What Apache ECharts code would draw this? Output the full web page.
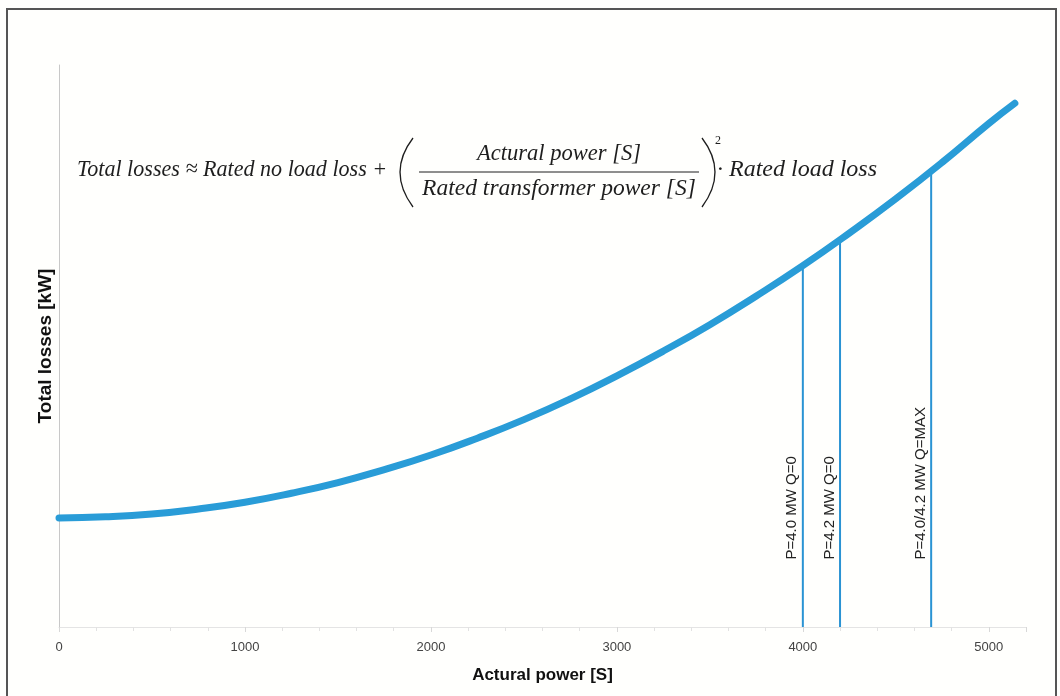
<!DOCTYPE html>
<html>
<head>
<meta charset="utf-8">
<script src="https://cdn.jsdelivr.net/npm/echarts@6/dist/echarts.min.js"></script>
<style>
  html, body { margin: 0; padding: 0; background: #fffffd; }
  #chart { width: 1060px; height: 696px; }
</style>
</head>
<body>
<div id="chart"></div>
<script>
const powerValues = [0, 250, 500, 750, 1000, 1250, 1500, 1750, 2000, 2250, 2500, 2750, 3000, 3250, 3500, 3750, 4000, 4250, 4500, 4750, 5000, 5140];
// Total losses (relative units, y axis has no labels)
const lossValues  = [19.4, 19.6, 20.1, 21.0, 22.2, 23.8, 25.7, 28.0, 30.6, 33.6, 36.9, 40.6, 44.7, 49.1, 53.8, 58.9, 64.3, 70.1, 76.2, 82.7, 89.6, 93.2];
// Operating-point markers
const markerPower  = [4000, 4200, 4690];
const markerLoss   = [64.3, 68.9, 81.2];
const markerLabels = ['P=4.0 MW Q=0', 'P=4.2 MW Q=0', 'P=4.0/4.2 MW Q=MAX'];
const xTickValues = [0, 1000, 2000, 3000, 4000, 5000];

const curveData = powerValues.map((p, i) => [p, lossValues[i]]);
const markerData = markerPower.map((p, i) => [p, markerLoss[i], markerLabels[i]]);

const chart = echarts.init(document.getElementById('chart'));
const serif = "'Liberation Serif', 'DejaVu Serif', serif";
const formulaColor = '#1e1e1e';

chart.setOption({
  backgroundColor: '#fffffd',
  animation: false,
  grid: { left: 59, right: 34, top: 65, bottom: 69 },
  xAxis: {
    type: 'value',
    min: 0, max: 5200, interval: 1000,
    name: 'Actural power [S]',
    nameLocation: 'middle',
    nameGap: 40,
    nameTextStyle: { fontFamily: 'Liberation Sans, Arial, sans-serif', fontWeight: 'bold', fontSize: 17, color: '#111' },
    axisLine: { show: true, lineStyle: { color: '#e4e4e4', width: 1 } },
    axisTick: { show: true, length: 5, lineStyle: { color: '#d8d8d8' } },
    minorTick: { show: true, splitNumber: 5, length: 4, lineStyle: { color: '#e2e2e2' } },
    splitLine: { show: false },
    axisLabel: {
      margin: 14,
      fontFamily: 'Liberation Sans, Arial, sans-serif', fontSize: 13, color: '#444',
      formatter: v => xTickValues.indexOf(v) >= 0 ? String(v) : ''
    }
  },
  yAxis: {
    type: 'value',
    min: 0, max: 100,
    name: 'Total losses [kW]',
    nameLocation: 'middle',
    nameRotate: 90,
    nameGap: 4,
    nameTextStyle: { fontFamily: 'Liberation Sans, Arial, sans-serif', fontWeight: 'bold', fontSize: 19, color: '#111' },
    axisLine: { show: true, lineStyle: { color: '#c8c8c8', width: 1 } },
    axisTick: { show: false },
    axisLabel: { show: false },
    splitLine: { show: false }
  },
  series: [
    {
      type: 'custom',
      data: markerData,
      z: 2,
      renderItem: function (params, api) {
        const x = api.value(0), y = api.value(1);
        const label = markerLabels[params.dataIndex];
        const p0 = api.coord([x, 0]);
        const p1 = api.coord([x, y]);
        const pt = api.coord([x, 12]);
        return {
          type: 'group',
          children: [
            { type: 'line', shape: { x1: p0[0], y1: p0[1], x2: p1[0], y2: p1[1] },
              style: { stroke: '#2a93d3', lineWidth: 2 } },
            { type: 'text', x: pt[0] - 3, y: pt[1], rotation: Math.PI / 2,
              style: { text: label, fontSize: 15, fontFamily: 'Liberation Sans, Arial, sans-serif',
                       fill: '#222', align: 'left', verticalAlign: 'bottom' } }
          ]
        };
      }
    },
    {
      type: 'line',
      data: curveData,
      smooth: true,
      symbol: 'none',
      z: 3,
      lineStyle: { color: '#299cd7', width: 7, cap: 'round' }
    }
  ],
  graphic: [
    { type: 'rect', shape: { x: 7, y: 9, width: 1049, height: 700 },
      style: { fill: 'none', stroke: '#555', lineWidth: 2 }, silent: true },
    { type: 'text', x: 77, y: 170, scaleX: 0.92,
      style: { text: 'Total losses ≈ Rated no load loss +', fontFamily: serif, fontStyle: 'italic', fontSize: 24, fill: formulaColor, align: 'left', verticalAlign: 'middle' } },
    { type: 'bezierCurve', shape: { x1: 413, y1: 138, x2: 413, y2: 207, cpx1: 387, cpy1: 172 },
      style: { stroke: formulaColor, lineWidth: 1.3, fill: 'none' } },
    { type: 'text', x: 559, y: 154, scaleX: 0.94,
      style: { text: 'Actural power [S]', fontFamily: serif, fontStyle: 'italic', fontSize: 24, fill: formulaColor, align: 'center', verticalAlign: 'middle' } },
    { type: 'line', shape: { x1: 419, y1: 172, x2: 699, y2: 172 },
      style: { stroke: formulaColor, lineWidth: 1 } },
    { type: 'text', x: 559, y: 189, scaleX: 0.98,
      style: { text: 'Rated transformer power [S]', fontFamily: serif, fontStyle: 'italic', fontSize: 24, fill: formulaColor, align: 'center', verticalAlign: 'middle' } },
    { type: 'bezierCurve', shape: { x1: 702, y1: 138, x2: 702, y2: 207, cpx1: 728, cpy1: 172 },
      style: { stroke: formulaColor, lineWidth: 1.3, fill: 'none' } },
    { type: 'text', x: 715, y: 141,
      style: { text: '2', fontFamily: serif, fontSize: 12, fill: formulaColor, align: 'left', verticalAlign: 'middle' } },
    { type: 'text', x: 717, y: 170,
      style: { text: '· Rated load loss', fontFamily: serif, fontStyle: 'italic', fontSize: 24, fill: formulaColor, align: 'left', verticalAlign: 'middle' } }
  ]
});
</script>
</body>
</html>
